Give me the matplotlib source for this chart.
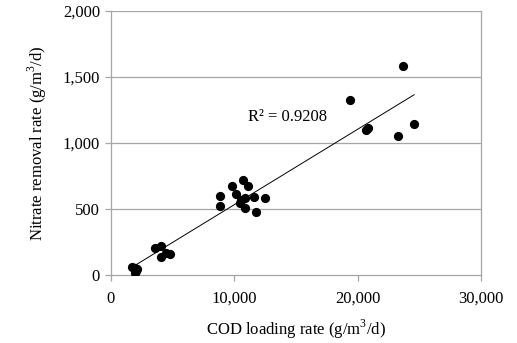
import numpy as np
import matplotlib
matplotlib.use("Agg")
import matplotlib.pyplot as plt

plt.rcParams['font.family'] = ['Liberation Serif', 'DejaVu Serif']
plt.rcParams['mathtext.fontset'] = 'custom'
plt.rcParams['mathtext.rm'] = 'Liberation Serif'

# COD loading rate (g/m3/d) vs nitrate removal rate (g/m3/d)
cod_loading = [1720, 1910, 2050, 1960, 2070, 3550, 4020, 4020, 4480, 4750,
               8810, 8810, 9800, 10700, 11100, 10160, 10570, 10890, 11570,
               12460, 10840, 11730, 10490,
               19360, 20710, 20850, 24580, 23280, 23640]
nitrate_removal = [65, 53, 35, 15, 45, 204, 224, 141, 166, 161,
                   602, 522, 675, 724, 679, 618, 568, 582, 592,
                   587, 511, 480, 548,
                   1324, 1099, 1117, 1144, 1054, 1585]
r2_label = "R\u00b2 = 0.9208"

x = np.array(cod_loading)
y = np.array(nitrate_removal)

fig = plt.figure(figsize=(5.17, 3.43), dpi=100)
ax = fig.add_axes([0.2147, 0.1974, 0.7157, 0.7706])

grey = '#a6a6a6'
for v in [500, 1000, 1500, 2000]:
    ax.axhline(v, color=grey, lw=0.9, zorder=0)

ax.scatter(x, y, s=44, color='black', zorder=3, linewidths=0)

# linear trendline
slope, intercept = np.polyfit(x, y, 1)
xs = np.array([x.min(), x.max()])
ax.plot(xs, slope * xs + intercept, color='black', lw=0.7, zorder=2)

ax.text(14300, 1197, r2_label, fontsize=12, ha='center', va='center')

ax.set_xlim(0, 30000)
ax.set_ylim(0, 2000)
ax.set_xticks([0, 10000, 20000, 30000])
ax.set_yticks([0, 500, 1000, 1500, 2000])
ax.xaxis.set_major_formatter(matplotlib.ticker.StrMethodFormatter('{x:,.0f}'))
ax.yaxis.set_major_formatter(matplotlib.ticker.StrMethodFormatter('{x:,.0f}'))

for s in ax.spines.values():
    s.set_color(grey)
    s.set_linewidth(0.9)
ax.spines['top'].set_visible(False)

ax.tick_params(axis='both', colors=grey, labelcolor='black', labelsize=12,
               length=4, width=0.9, direction='out')
ax.tick_params(axis='y', pad=4)
ax.tick_params(axis='x', pad=7)

ax.set_xlabel('COD loading rate (g/m$^3$/d)', fontsize=12, labelpad=8)
ax.set_ylabel('Nitrate removal rate (g/m$^3$/d)', fontsize=12, labelpad=10)

fig.savefig('out.png', dpi=100)
